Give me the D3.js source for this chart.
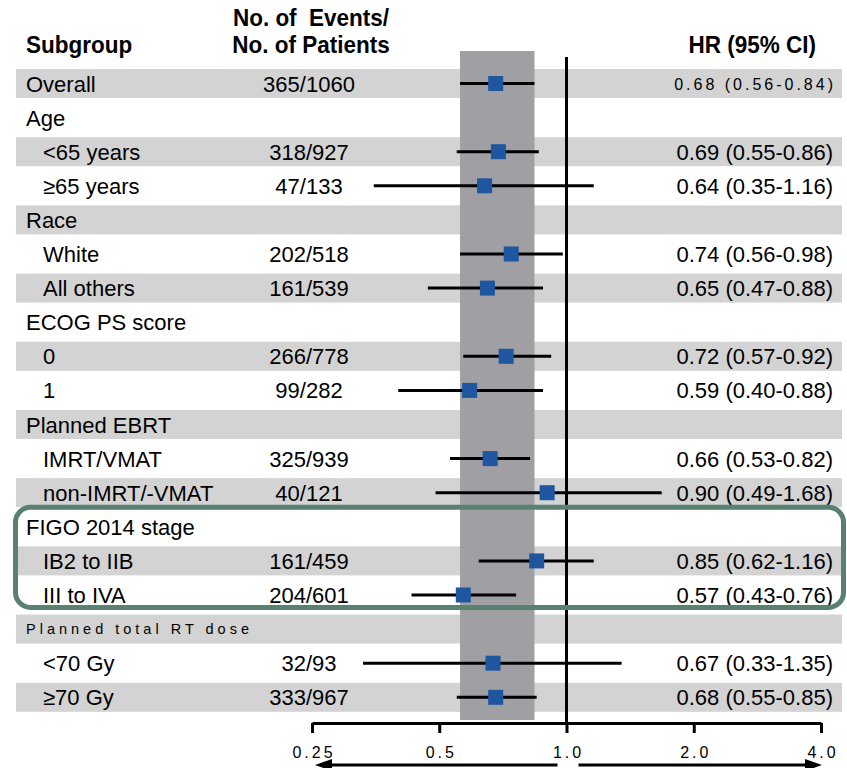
<!DOCTYPE html>
<html><head><meta charset="utf-8">
<script src="https://cdn.jsdelivr.net/npm/d3@7"></script>
<style>
html,body{margin:0;padding:0;background:#fff;}
text{font-family:"Liberation Sans",Arial,Helvetica,sans-serif;fill:#000;}
</style></head>
<body><svg id="c" width="847" height="768"></svg>
<script>
// ---- data ----
const subgroups = ["Overall","Age","<65 years","\u226565 years","Race","White","All others","ECOG PS score","0","1","Planned EBRT","IMRT/VMAT","non-IMRT/-VMAT","FIGO 2014 stage","IB2 to IIB","III to IVA","Planned total RT dose","<70 Gy","\u226570 Gy"];
const indented = [0,0,1,1,0,1,1,0,1,1,0,1,1,0,1,1,0,1,1];
const events = ["365/1060","","318/927","47/133","","202/518","161/539","","266/778","99/282","","325/939","40/121","","161/459","204/601","","32/93","333/967"];
const hr = [0.68,null,0.69,0.64,null,0.74,0.65,null,0.72,0.59,null,0.66,0.90,null,0.85,0.57,null,0.67,0.68];
const lo = [0.56,null,0.55,0.35,null,0.56,0.47,null,0.57,0.40,null,0.53,0.49,null,0.62,0.43,null,0.33,0.55];
const hi = [0.84,null,0.86,1.16,null,0.98,0.88,null,0.92,0.88,null,0.82,1.68,null,1.16,0.76,null,1.35,0.85];
const tickValues = [0.25,0.5,1,2,4];
const tickLabels = ["0.25","0.5","1.0","2.0","4.0"];
const highlightRows = [13,15];

// ---- layout ----
const svg = d3.select("#c");
const x = d3.scaleLog().base(2).domain([0.25,4]).range([312,821]);
const y0 = 83.5, pitch = 34.1;
const yc = i => y0 + i*pitch;
const rows = subgroups.map((s,i)=>({i,s,ind:indented[i],ev:events[i],hr:hr[i],lo:lo[i],hi:hi[i]}));

// stripes
svg.append("g").selectAll("rect").data(rows.filter(d=>d.i%2===0)).join("rect")
  .attr("x",16).attr("width",826).attr("y",d=>yc(d.i)-14.5).attr("height",29).attr("fill","#d3d3d3");

// overall CI band
svg.append("rect").attr("x",x(lo[0])).attr("width",x(hi[0])-x(lo[0]))
  .attr("y",51).attr("height",669).attr("fill","#a09fa4");

// null line
svg.append("line").attr("x1",x(1)).attr("x2",x(1)).attr("y1",57).attr("y2",723)
  .attr("stroke","#000").attr("stroke-width",3);

// header
function hText(tx, ty, anchor, str){
  svg.append("text").attr("transform",`translate(${tx},${ty}) scale(1,1.06)`)
    .attr("text-anchor",anchor).style("font-weight","bold").style("font-size","22.5px")
    .style("white-space","pre").text(str);
}
hText(26,53,"start","Subgroup");
hText(311,26,"middle","No. of  Events/");
hText(311,53,"middle","No. of Patients");
hText(816,53,"end","HR (95% CI)");

// labels
const lab = svg.append("g");
lab.selectAll("text.s").data(rows).join("text").attr("class","s")
  .attr("x",d=>d.ind?43:26).attr("y",d=>yc(d.i)+(d.i===16?5:8))
  .style("font-size",d=>d.i===16?"14.5px":"22px")
  .style("letter-spacing",d=>d.i===16?"4px":"0px")
  .text(d=>d.s);
lab.selectAll("text.e").data(rows.filter(d=>d.ev)).join("text").attr("class","e")
  .attr("x",309).attr("y",d=>yc(d.i)+8).attr("text-anchor","middle")
  .style("font-size","22px").text(d=>d.ev);
const fmt = d3.format(".2f");
lab.selectAll("text.h").data(rows.filter(d=>d.hr!=null)).join("text").attr("class","h")
  .attr("x",d=>d.i===0?836:833).attr("y",d=>yc(d.i)+(d.i===0?6:8)).attr("text-anchor","end")
  .style("font-size",d=>d.i===0?"16px":"22px")
  .style("letter-spacing",d=>d.i===0?"3px":"0px")
  .text(d=>`${fmt(d.hr)} (${fmt(d.lo)}-${fmt(d.hi)})`);

// CI lines and markers
const pts = rows.filter(d=>d.hr!=null);
svg.append("g").selectAll("line").data(pts).join("line")
  .attr("x1",d=>x(d.lo)).attr("x2",d=>x(d.hi)).attr("y1",d=>yc(d.i)).attr("y2",d=>yc(d.i))
  .attr("stroke","#000").attr("stroke-width",3);
svg.append("g").selectAll("rect").data(pts).join("rect")
  .attr("x",d=>x(d.hr)-7.5).attr("y",d=>yc(d.i)-7.5).attr("width",15).attr("height",15)
  .attr("fill","#1f56a0");

// highlight box
const bTop = yc(highlightRows[0])-19.5, bBot = yc(highlightRows[1])+12.5;
svg.append("rect").attr("x",15.5).attr("width",828)
  .attr("y",bTop).attr("height",bBot-bTop)
  .attr("rx",15).attr("ry",15).attr("fill","none").attr("stroke","#5a8070").attr("stroke-width",5);

// axis
const ax = svg.append("g").attr("transform","translate(0,723)")
  .call(d3.axisBottom(x).tickValues(tickValues).tickSize(10).tickSizeOuter(0).tickFormat((d,i)=>tickLabels[i]));
ax.select(".domain").attr("stroke","#000").attr("stroke-width",3);
ax.selectAll(".tick line").attr("stroke","#000").attr("stroke-width",3);
ax.selectAll(".tick text").attr("y",35).attr("dy",0).attr("dx","1.5px")
  .style("font-size","16px").style("letter-spacing","3px").style("font-family","'Liberation Sans',Arial,sans-serif").attr("fill","#000");

// arrows
const ay = 765;
const arr = svg.append("g");
arr.append("line").attr("x1",x(1)-9).attr("x2",x(0.25)+14).attr("y1",ay).attr("y2",ay).attr("stroke","#000").attr("stroke-width",3);
arr.append("line").attr("x1",x(1)+12).attr("x2",x(4)-14).attr("y1",ay).attr("y2",ay).attr("stroke","#000").attr("stroke-width",3);
arr.append("path").attr("d",`M${x(0.25)+3},${ay} L${x(0.25)+20},${ay-6} L${x(0.25)+20},${ay+6}Z`).attr("fill","#000");
arr.append("path").attr("d",`M${x(4)+1},${ay} L${x(4)-16},${ay-6} L${x(4)-16},${ay+6}Z`).attr("fill","#000");
</script></body></html>
